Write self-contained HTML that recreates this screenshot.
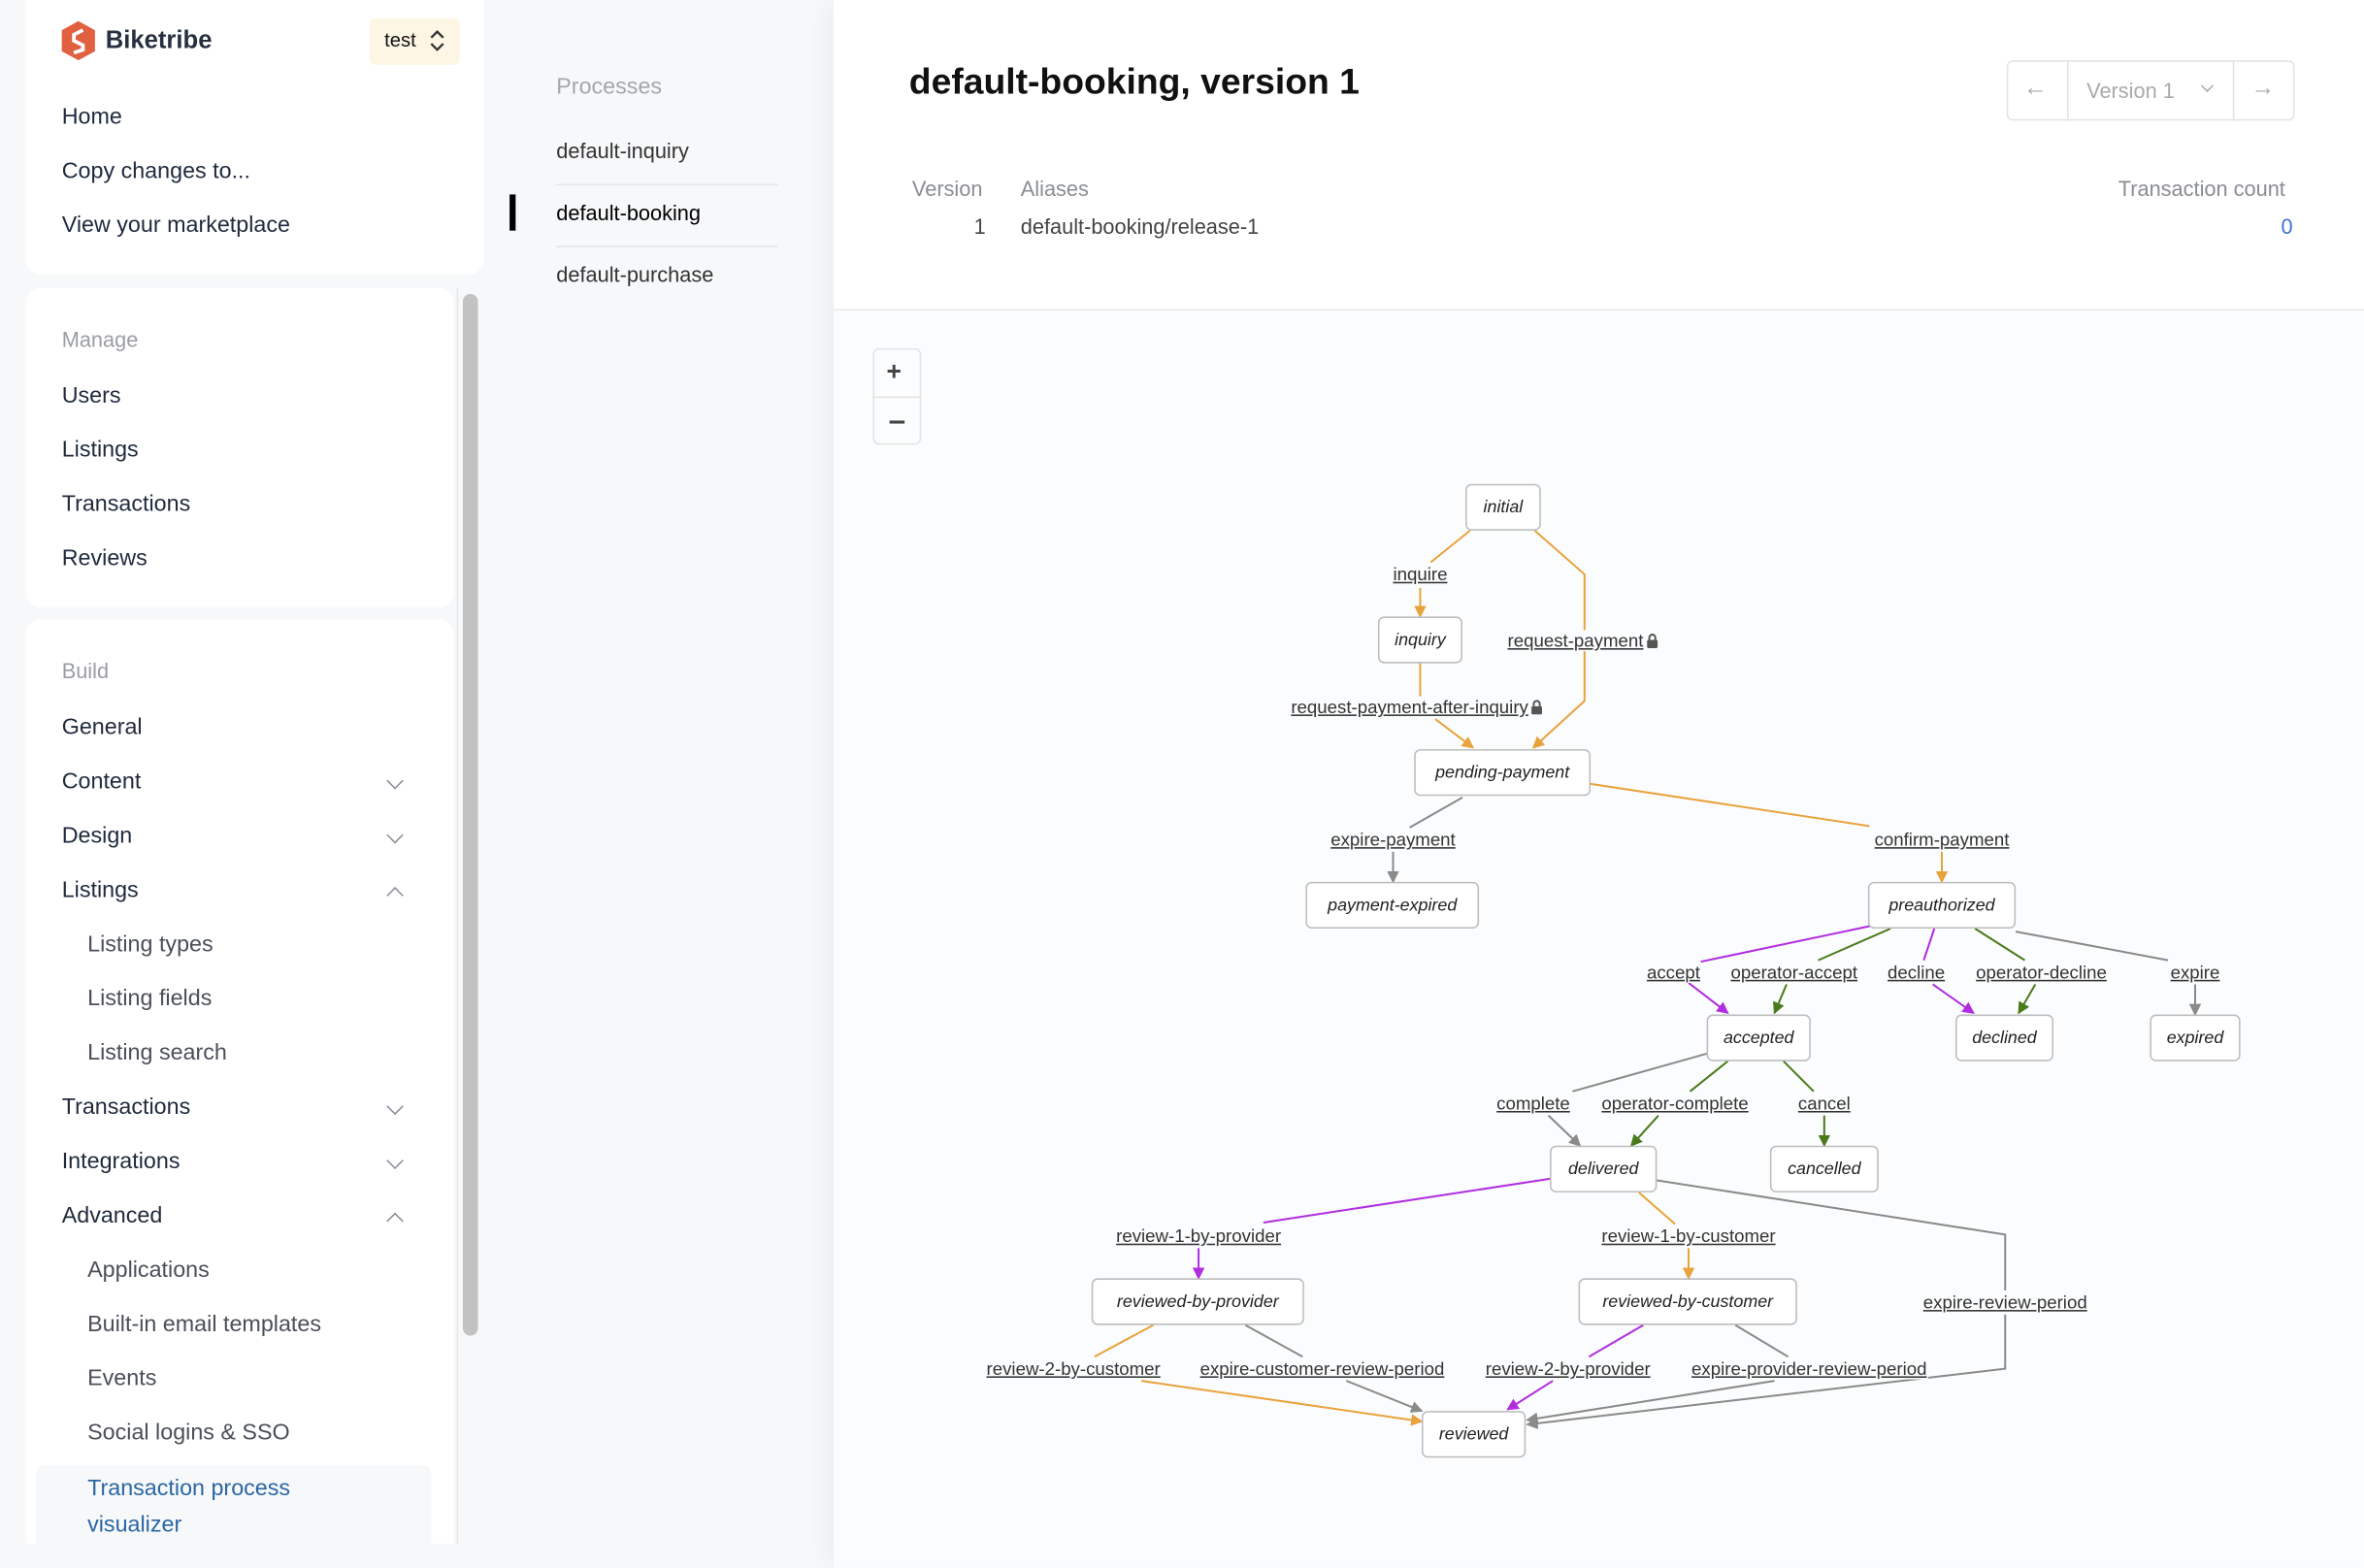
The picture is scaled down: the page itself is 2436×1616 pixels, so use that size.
<!DOCTYPE html>
<html><head><meta charset="utf-8">
<style>
html,body{margin:0;padding:0;width:2436px;height:1616px;overflow:hidden;background:#f7f8fa;}
#w{position:absolute;left:0;top:0;width:1568px;height:1040px;transform:scale(1.55357);transform-origin:0 0;font-family:"Liberation Sans",sans-serif;color:#1f2633;}
.a{position:absolute;white-space:nowrap;}
.nav{position:absolute;left:41px;font-size:15px;color:#1f2a3c;line-height:18px;}
.sub{left:58px;color:#4a4f58;}
.hdr{color:#9a9da3;}
.chev{position:absolute;left:258px;width:7px;height:7px;border-right:1.5px solid #8a8f98;border-bottom:1.5px solid #8a8f98;}
.dn{transform:rotate(45deg);}
.up{transform:rotate(-135deg);}
.card{position:absolute;background:#fff;border-radius:10px;}
.node{position:absolute;background:#fff;border:1px solid #bdbdbd;border-radius:4px;font-style:italic;font-size:11.5px;color:#222;display:flex;align-items:center;justify-content:center;box-sizing:border-box;}
.lb{position:absolute;font-size:12px;color:#333;text-decoration:underline;transform:translate(-50%,-50%);white-space:nowrap;background:#fbfcfd;padding:0 1px;line-height:14px;}
.lk{display:inline-block;vertical-align:-1px;margin-left:2px;}
</style></head><body><div id="w">
<div class="card" style="left:17px;top:-10px;width:304px;height:192px;"></div>
<div class="card" style="left:17px;top:191px;width:284px;height:212px;"></div>
<div class="card" style="left:17px;top:411px;width:284px;height:613px;border-radius:10px 10px 0 0;"></div>
<div class="a" style="left:307px;top:195px;width:10px;height:691px;background:#c2c2c2;border-radius:5px;"></div>
<div class="a" style="left:303px;top:191px;width:1px;height:833px;background:#e6e6e6;"></div>
<svg class="a" style="left:40px;top:14px" width="24" height="26" viewBox="0 0 24 26"><path d="M12 0 L23 6 L23 20 L12 26 L1 20 L1 6Z" fill="#e0603f"/><path d="M15 6 L9 9 L9 13 L15 16 L15 19 L9 21" stroke="#fff" stroke-width="2.4" fill="none"/></svg>
<div class="a" style="left:70px;top:18px;font-size:16.5px;font-weight:bold;color:#27303f;">Biketribe</div>
<div class="a" style="left:245px;top:12px;width:60px;height:31px;background:#fdf6e5;border-radius:4px;"></div>
<div class="a" style="left:255px;top:19px;font-size:13px;color:#111;">test</div>
<svg class="a" style="left:284px;top:19px" width="12" height="16"><path d="M2 6 L6 2 L10 6 M2 10 L6 14 L10 10" stroke="#333" stroke-width="1.5" fill="none"/></svg>
<div class="nav" style="top:69px">Home</div>
<div class="nav" style="top:105px">Copy changes to...</div>
<div class="nav" style="top:141px">View your marketplace</div>
<div class="nav hdr" style="top:216px;font-size:14px">Manage</div>
<div class="nav" style="top:254px">Users</div>
<div class="nav" style="top:290px">Listings</div>
<div class="nav" style="top:326px">Transactions</div>
<div class="nav" style="top:362px">Reviews</div>
<div class="nav hdr" style="top:436px;font-size:14px">Build</div>
<div class="nav" style="top:474px">General</div>
<div class="nav" style="top:510px">Content</div><div class="chev dn" style="top:514px"></div>
<div class="nav" style="top:546px">Design</div><div class="chev dn" style="top:550px"></div>
<div class="nav" style="top:582px">Listings</div><div class="chev up" style="top:590px"></div>
<div class="nav sub" style="top:618px">Listing types</div>
<div class="nav sub" style="top:654px">Listing fields</div>
<div class="nav sub" style="top:690px">Listing search</div>
<div class="nav" style="top:726px">Transactions</div><div class="chev dn" style="top:730px"></div>
<div class="nav" style="top:762px">Integrations</div><div class="chev dn" style="top:766px"></div>
<div class="nav" style="top:798px">Advanced</div><div class="chev up" style="top:806px"></div>
<div class="nav sub" style="top:834px">Applications</div>
<div class="nav sub" style="top:870px">Built-in email templates</div>
<div class="nav sub" style="top:906px">Events</div>
<div class="nav sub" style="top:942px">Social logins &amp; SSO</div>
<div class="a" style="left:24px;top:972px;width:262px;height:52px;background:#f6f8fa;border-radius:5px 5px 0 0;"></div>
<div class="nav sub" style="top:976px;color:#2b66a3;line-height:24px;">Transaction process<br>visualizer</div>
<div class="a" style="left:369px;top:49px;font-size:15px;color:#a4a7ac;">Processes</div>
<div class="a" style="left:369px;top:92px;font-size:14px;color:#333;">default-inquiry</div>
<div class="a" style="left:369px;top:122px;width:147px;height:1px;background:#e4e5e8;"></div>
<div class="a" style="left:338px;top:129px;width:4px;height:24px;background:#000;"></div>
<div class="a" style="left:369px;top:133px;font-size:14px;color:#000;">default-booking</div>
<div class="a" style="left:369px;top:163px;width:147px;height:1px;background:#e4e5e8;"></div>
<div class="a" style="left:369px;top:174px;font-size:14px;color:#333;">default-purchase</div>
<div class="a" style="left:553px;top:0;width:1015px;height:1040px;background:#fbfcfd;box-shadow:-6px 0 14px rgba(0,0,0,0.04);"></div>
<div class="a" style="left:553px;top:0;width:1015px;height:205px;background:#fff;border-bottom:1px solid #e8e9ec;"></div>
<div class="a" style="left:603px;top:41px;font-size:24px;font-weight:bold;color:#111;">default-booking, version 1</div>
<div class="a" style="left:1331px;top:40px;width:191px;height:40px;border:1px solid #e3e3e3;border-radius:4px;box-sizing:border-box;"></div>
<div class="a" style="left:1371px;top:40px;width:1px;height:40px;background:#e3e3e3;"></div>
<div class="a" style="left:1481px;top:40px;width:1px;height:40px;background:#e3e3e3;"></div>
<div class="a" style="left:1342px;top:50px;font-size:16px;color:#a8a8a8;">&#8592;</div>
<div class="a" style="left:1493px;top:50px;font-size:16px;color:#a8a8a8;">&#8594;</div>
<div class="a" style="left:1384px;top:52px;font-size:14px;color:#aaa;">Version 1</div>
<div class="a" style="left:1461px;top:54px;width:5px;height:5px;border-right:1.5px solid #aaa;border-bottom:1.5px solid #aaa;transform:rotate(45deg);"></div>
<div class="a" style="left:605px;top:117px;font-size:14px;color:#8a8d92;">Version</div>
<div class="a" style="left:677px;top:117px;font-size:14px;color:#8a8d92;">Aliases</div>
<div class="a" style="left:1405px;top:117px;font-size:14px;color:#8a8d92;">Transaction count</div>
<div class="a" style="left:646px;top:142px;font-size:14px;color:#444;">1</div>
<div class="a" style="left:677px;top:142px;font-size:14px;color:#444;">default-booking/release-1</div>
<div class="a" style="left:1513px;top:142px;font-size:14px;color:#3b73d0;">0</div>
<div class="a" style="left:579px;top:231px;width:32px;height:64px;border:1px solid #e3e3e3;border-radius:4px;box-sizing:border-box;background:#fbfcfd;"></div>
<div class="a" style="left:579px;top:263px;width:32px;height:1px;background:#e3e3e3;"></div>
<div class="a" style="left:588px;top:237px;font-size:17px;font-weight:bold;color:#444;">+</div>
<div class="a" style="left:590px;top:279px;width:10px;height:2px;background:#444;"></div>
<svg class="a" style="left:0;top:0" width="1568" height="1040" fill="none" stroke-width="1.3">
<defs>
<marker id="mo" markerWidth="8" markerHeight="8" refX="7" refY="4" orient="auto" markerUnits="userSpaceOnUse"><path d="M0 0L8 4L0 8Z" fill="#e8a33d"/></marker>
<marker id="mg" markerWidth="8" markerHeight="8" refX="7" refY="4" orient="auto" markerUnits="userSpaceOnUse"><path d="M0 0L8 4L0 8Z" fill="#8a8a8a"/></marker>
<marker id="mp" markerWidth="8" markerHeight="8" refX="7" refY="4" orient="auto" markerUnits="userSpaceOnUse"><path d="M0 0L8 4L0 8Z" fill="#b02ee0"/></marker>
<marker id="mn" markerWidth="8" markerHeight="8" refX="7" refY="4" orient="auto" markerUnits="userSpaceOnUse"><path d="M0 0L8 4L0 8Z" fill="#4b7a1c"/></marker>
</defs>
<g stroke="#e8a33d">
<path d="M975 352L949 373"/><path d="M942 390L942 409" marker-end="url(#mo)"/>
<path d="M1018 352L1051 381L1051 418"/><path d="M1051 432L1051 465L1017 496" marker-end="url(#mo)"/>
<path d="M942 440L942 462"/><path d="M952 477L977 496" marker-end="url(#mo)"/>
<path d="M1055 520L1240 548"/><path d="M1288 565L1288 585" marker-end="url(#mo)"/>
<path d="M1087 791L1111 812"/><path d="M1120 828L1120 848" marker-end="url(#mo)"/>
<path d="M765 879L726 900"/><path d="M757 916L943 943" marker-end="url(#mo)"/>
</g>
<g stroke="#8a8a8a">
<path d="M970 529L935 549"/><path d="M924 565L924 585" marker-end="url(#mg)"/>
<path d="M1337 618L1438 637"/><path d="M1456 653L1456 673" marker-end="url(#mg)"/>
<path d="M1132 699L1043 724"/><path d="M1027 740L1048 760" marker-end="url(#mg)"/>
<path d="M1099 783L1330 819L1330 856"/><path d="M1330 872L1330 908L1013 945" marker-end="url(#mg)"/>
<path d="M826 879L864 900"/><path d="M893 916L943 936" marker-end="url(#mg)"/>
<path d="M1151 879L1186 900"/><path d="M1177 916L1013 942" marker-end="url(#mg)"/>
</g>
<g stroke="#b02ee0">
<path d="M1242 614L1128 638"/><path d="M1120 652L1146 672" marker-end="url(#mp)"/>
<path d="M1283 616L1276 637"/><path d="M1282 653L1309 672" marker-end="url(#mp)"/>
<path d="M1028 782L838 811"/><path d="M795 828L795 848" marker-end="url(#mp)"/>
<path d="M1090 879L1054 900"/><path d="M1030 916L1000 935" marker-end="url(#mp)"/>
</g>
<g stroke="#4b7a1c">
<path d="M1254 616L1206 637"/><path d="M1185 653L1177 672" marker-end="url(#mn)"/>
<path d="M1310 616L1343 637"/><path d="M1350 653L1339 672" marker-end="url(#mn)"/>
<path d="M1146 704L1121 724"/><path d="M1100 740L1082 760" marker-end="url(#mn)"/>
<path d="M1183 704L1203 724"/><path d="M1210 740L1210 760" marker-end="url(#mn)"/>
</g>
</svg>
<div class="node" style="left:972px;top:321px;width:50px;height:31px;">initial</div>
<div class="node" style="left:914px;top:409px;width:56px;height:31px;">inquiry</div>
<div class="node" style="left:938px;top:497px;width:117px;height:31px;">pending-payment</div>
<div class="node" style="left:866px;top:585px;width:115px;height:31px;">payment-expired</div>
<div class="node" style="left:1239px;top:585px;width:98px;height:31px;">preauthorized</div>
<div class="node" style="left:1132px;top:673px;width:69px;height:31px;">accepted</div>
<div class="node" style="left:1297px;top:673px;width:65px;height:31px;">declined</div>
<div class="node" style="left:1426px;top:673px;width:60px;height:31px;">expired</div>
<div class="node" style="left:1028px;top:760px;width:71px;height:31px;">delivered</div>
<div class="node" style="left:1174px;top:760px;width:72px;height:31px;">cancelled</div>
<div class="node" style="left:724px;top:848px;width:141px;height:31px;">reviewed-by-provider</div>
<div class="node" style="left:1047px;top:848px;width:145px;height:31px;">reviewed-by-customer</div>
<div class="node" style="left:943px;top:936px;width:69px;height:31px;">reviewed</div>
<div class="lb" style="left:942px;top:381px">inquire</div>
<div class="lb" style="left:1050px;top:425px">request-payment<svg class="lk" width="8" height="10" viewBox="0 0 8 10"><path d="M2 4.5V3a2 2 0 0 1 4 0v1.5" stroke="#555" stroke-width="1.3" fill="none"/><rect x="0.5" y="4.5" width="7" height="5.5" rx="1" fill="#555"/></svg></div>
<div class="lb" style="left:940px;top:469px">request-payment-after-inquiry<svg class="lk" width="8" height="10" viewBox="0 0 8 10"><path d="M2 4.5V3a2 2 0 0 1 4 0v1.5" stroke="#555" stroke-width="1.3" fill="none"/><rect x="0.5" y="4.5" width="7" height="5.5" rx="1" fill="#555"/></svg></div>
<div class="lb" style="left:924px;top:557px">expire-payment</div>
<div class="lb" style="left:1288px;top:557px">confirm-payment</div>
<div class="lb" style="left:1110px;top:645px">accept</div>
<div class="lb" style="left:1190px;top:645px">operator-accept</div>
<div class="lb" style="left:1271px;top:645px">decline</div>
<div class="lb" style="left:1354px;top:645px">operator-decline</div>
<div class="lb" style="left:1456px;top:645px">expire</div>
<div class="lb" style="left:1017px;top:732px">complete</div>
<div class="lb" style="left:1111px;top:732px">operator-complete</div>
<div class="lb" style="left:1210px;top:732px">cancel</div>
<div class="lb" style="left:795px;top:820px">review-1-by-provider</div>
<div class="lb" style="left:1120px;top:820px">review-1-by-customer</div>
<div class="lb" style="left:1330px;top:864px">expire-review-period</div>
<div class="lb" style="left:712px;top:908px">review-2-by-customer</div>
<div class="lb" style="left:877px;top:908px">expire-customer-review-period</div>
<div class="lb" style="left:1040px;top:908px">review-2-by-provider</div>
<div class="lb" style="left:1200px;top:908px">expire-provider-review-period</div>
</div></body></html>
